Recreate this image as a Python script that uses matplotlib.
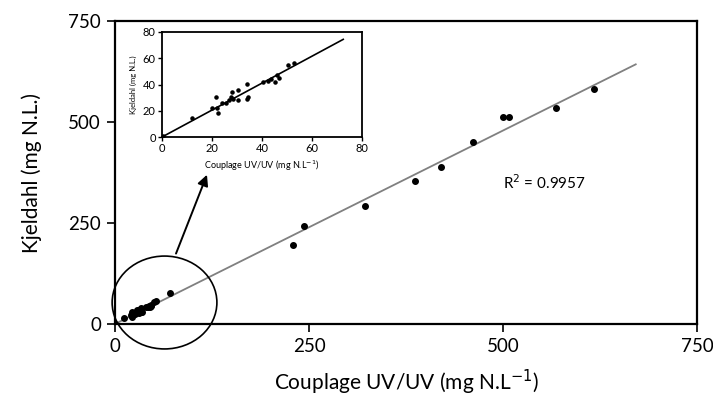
import matplotlib
matplotlib.use("Agg")
import matplotlib.pyplot as plt
from matplotlib.patches import Ellipse
import numpy as np

plt.rcParams['font.family'] = ['Lato', 'DejaVu Sans']

# low range points (shown in the inset and in the main cluster)
x_low = [0.5, 12.1, 20.0, 21.5, 21.9, 22.3, 23.9, 25.6, 27.0, 27.7, 28.0, 28.5,
         30.5, 30.5, 33.9, 33.9, 34.5, 40.5, 42.5, 43.5, 45.2, 45.9, 46.9, 50.5, 52.8]
y_low = [0.5, 14.2, 22.3, 30.2, 21.8, 18.0, 25.7, 25.9, 28.0, 30.7, 34.3, 28.7,
         28.2, 35.8, 40.4, 28.7, 30.7, 41.9, 42.9, 44.4, 42.1, 47.2, 45.2, 54.9, 56.1]

# high range points (main plot only)
x_high = [70.9, 229.8, 243.6, 322.2, 386.6, 420.5, 460.9, 500.4, 507.2, 568.3, 616.9]
y_high = [76.0, 196.3, 242.6, 292.8, 354.7, 389.4, 449.7, 511.6, 513.2, 535.4, 581.7]

# fitted lines
fit_main_x = [0, 671]
fit_main_y = [0, 643]
fit_inset_x = [0, 72.5]
fit_inset_y = [0, 74.4]

main_ticks = [0, 250, 500, 750]
inset_ticks = [0, 20, 40, 60, 80]

fig = plt.figure(figsize=(7.13, 3.99), dpi=100)
ax = fig.add_axes([0.1613, 0.188, 0.8163, 0.759])

ax.plot(fit_main_x, fit_main_y, color='#808080', lw=1.3, zorder=2)
ax.scatter(x_low + x_high, y_low + y_high, s=16, color='black', zorder=3)

ax.set_xlim(0, 750)
ax.set_ylim(0, 750)
ax.set_xticks(main_ticks)
ax.set_yticks(main_ticks)
ax.tick_params(direction='out', length=6, width=1.2, labelsize=13.5, pad=4)
for sp in ax.spines.values():
    sp.set_linewidth(1.6)
ax.set_xlabel('Couplage UV/UV (mg N.L$^{-1}$)', fontsize=15, labelpad=9)
ax.set_ylabel('Kjeldahl (mg N.L.)', fontsize=15, labelpad=19)

ax.text(500, 335, 'R$^2$ = 0.9957', fontsize=11)

# circle around the low range cluster
circ = Ellipse((63.8, 53.2), 135, 230, fill=False, ec='black', lw=1.2, clip_on=False, zorder=4)
ax.add_patch(circ)
ax.annotate('', xy=(119.8, 376), xytext=(77.3, 168),
            arrowprops=dict(arrowstyle='-|>', color='black', lw=1.4, mutation_scale=16),
            annotation_clip=False)

# inset
axi = fig.add_axes([0.2272, 0.6566, 0.2805, 0.2632])
axi.plot(fit_inset_x, fit_inset_y, color='black', lw=1.2, zorder=2)
axi.scatter(x_low, y_low, s=5, color='black', zorder=3)
axi.set_xlim(0, 80)
axi.set_ylim(0, 80)
axi.set_xticks(inset_ticks)
axi.set_yticks(inset_ticks)
axi.tick_params(direction='out', length=3, width=1, labelsize=8, pad=1.5)
for sp in axi.spines.values():
    sp.set_linewidth(1.3)
axi.set_xlabel('Couplage UV/UV (mg N.L$^{-1}$)', fontsize=6.5, labelpad=3)
axi.set_ylabel('Kjeldahl (mg N.L.)', fontsize=5.5, labelpad=4)

fig.savefig('out.png', dpi=100)
